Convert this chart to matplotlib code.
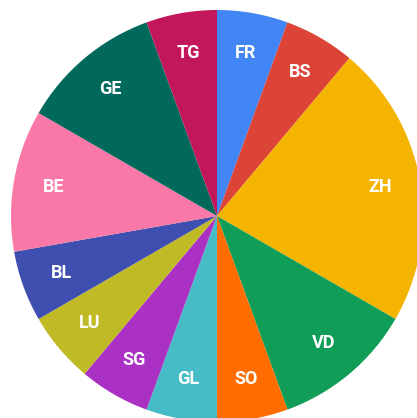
import matplotlib
matplotlib.use("Agg")
import matplotlib.pyplot as plt

# cantons, clockwise from 12 o'clock
cantons = ["FR", "BS", "ZH", "VD", "SO", "GL", "SG", "LU", "BL", "BE", "GE", "TG"]
counts = [1, 1, 4, 2, 1, 1, 1, 1, 1, 2, 2, 1]
colors = ["#4285F4", "#DB4437", "#F4B400", "#0F9D58", "#FF6D01", "#46BDC6",
          "#AB30C4", "#C0BA26", "#3F4FB0", "#FA78A8", "#00695C", "#C2185B"]

W, H = 417, 418
fig = plt.figure(figsize=(W / 100, H / 100), dpi=100)

# pie centre at (217, 216) px from top-left, radius ~206 px
cx, cy, r = 217, 216, 206
ax = fig.add_axes([(cx - r) / W, (H - cy - r) / H, 2 * r / W, 2 * r / H])
ax.axis("off")

wedges, texts = ax.pie(counts, labels=cantons, colors=colors, startangle=90,
                       counterclock=False, labeldistance=0.805, radius=1,
                       wedgeprops={"linewidth": 0},
                       textprops={"color": "white", "fontsize": 13,
                                  "fontweight": "bold", "family": "Roboto"})
for t in texts:
    t.set_horizontalalignment("center")
    t.set_verticalalignment("center")
ax.set_xlim(-1, 1)
ax.set_ylim(-1, 1)

fig.savefig("out.png", dpi=100)
